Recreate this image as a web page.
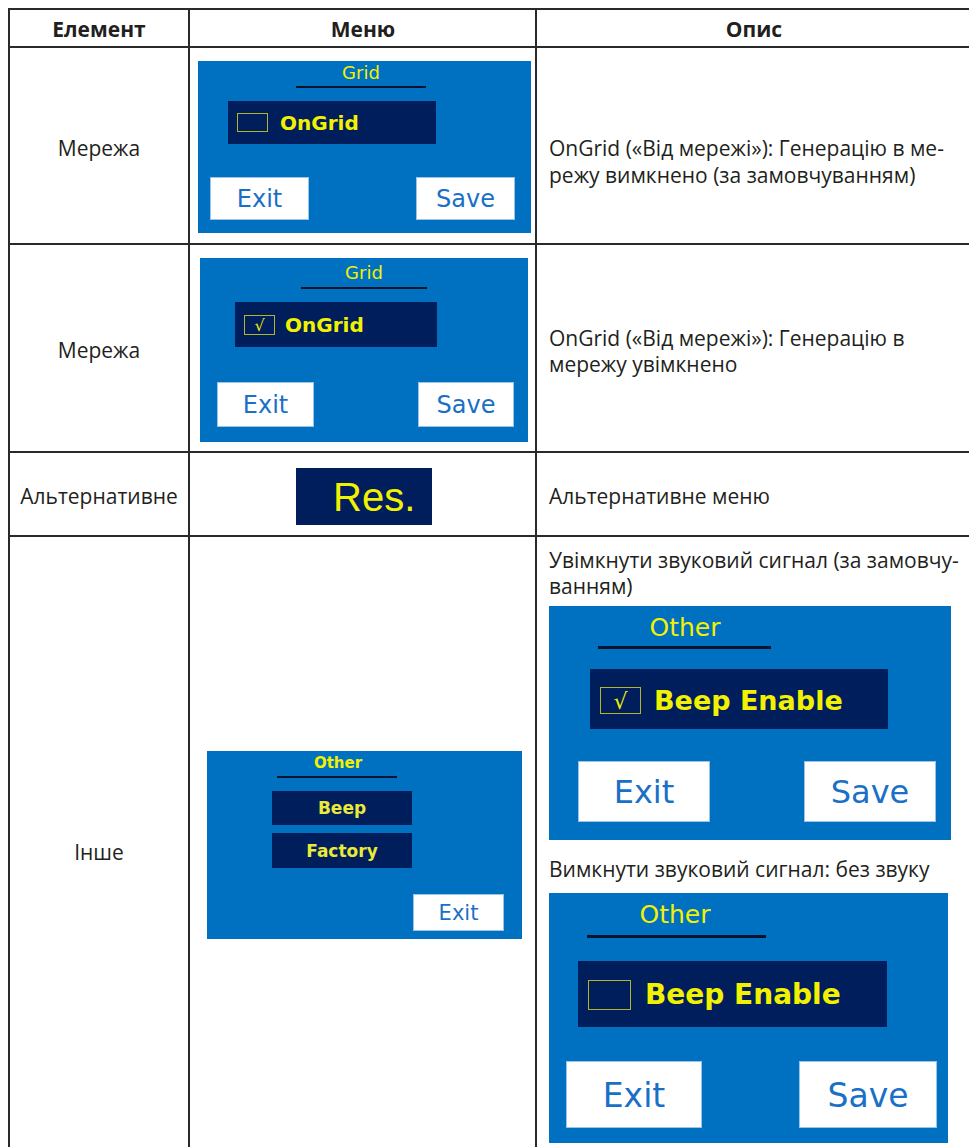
<!DOCTYPE html>
<html>
<head>
<meta charset="utf-8">
<script src="https://cdn.jsdelivr.net/npm/chart.js@4.4.1/dist/chart.umd.min.js"></script>
<style>
  html, body { margin: 0; padding: 0; background: #fff; width: 969px; height: 1147px; overflow: hidden; }
  #page { position: relative; width: 969px; height: 1147px; font-family: "Open Sans", "Noto Sans", sans-serif; color: #231f20; }
  .abs { position: absolute; box-sizing: border-box; }
  .txt { position: absolute; white-space: nowrap; line-height: 1; }
  .mid { transform: translate(-50%, -50%); }
  .lmid { transform: translateY(-50%); }
  .hc { transform: translateX(-50%); }
</style>
</head>
<body>
<div id="page"></div>
<script>
// table content
var headers = ["Елемент", "Меню", "Опис"];
var elements = ["Мережа", "Мережа", "Альтернативне", "Інше"];
var descriptions = [
  ["OnGrid («Від мережі»): Генерацію в ме-", "режу вимкнено (за замовчуванням)"],
  ["OnGrid («Від мережі»): Генерацію в", "мережу увімкнено"],
  ["Альтернативне меню"],
  ["Увімкнути звуковий сигнал (за замовчу-", "ванням)"]
];
var subDescription = "Вимкнути звуковий сигнал: без звуку";
var screenTitles = ["Grid", "Grid", "Other", "Other", "Other"];
var optionLabels = ["OnGrid", "OnGrid", "Beep Enable", "Beep Enable"];
var optionChecked = [false, true, true, false];
var otherItems = ["Beep", "Factory"];
var buttonLabels = ["Exit", "Save"];
var altLabel = "Res.";

var BLUE = "#0070c0", NAVY = "#001e5b", YEL = "#f2f200", BTN = "#1a70c6", LINE = "#2a2a2a";
var BODY = 21, ASC = 18.6; // body font size and baseline offset (line-height 1)
var page = document.getElementById("page");

function box(x, y, w, h, css) {
  var d = document.createElement("div");
  d.className = "abs";
  d.style.left = x + "px"; d.style.top = y + "px";
  d.style.width = w + "px"; d.style.height = h + "px";
  Object.assign(d.style, css || {});
  page.appendChild(d);
  return d;
}
function text(str, x, y, cls, css) {
  var d = document.createElement("div");
  d.className = "txt " + (cls || "");
  d.style.left = x + "px"; d.style.top = y + "px";
  d.textContent = str;
  Object.assign(d.style, css || {});
  page.appendChild(d);
  return d;
}
// body text placed by its baseline
function bodyText(str, x, base, centered, bold) {
  return text(str, x, base - ASC, centered ? "hc" : "", { fontSize: BODY + "px", fontWeight: bold ? "bold" : "normal" });
}
function button(label, x, y, w, h, size) {
  box(x, y, w, h, { background: "#fff", border: "1px solid #9cc3e8" });
  text(label, x + w / 2, y + h / 2, "mid", { fontFamily: "DejaVu Sans", fontSize: size + "px", color: BTN });
}
function checkbox(x, y, w, h, checked, size) {
  box(x, y, w, h, { border: "1.5px solid #b5b52a" });
  if (checked) text("√", x + w / 2, y + h / 2 + 1, "mid", { fontFamily: "DejaVu Sans", fontSize: size + "px", color: YEL });
}
function title(str, cx, cy, size, bold, ux1, ux2, uy, uh) {
  text(str, cx, cy, "mid", { fontFamily: "DejaVu Sans", fontSize: size + "px", color: YEL, fontWeight: bold ? "bold" : "normal" });
  box(ux1, uy, ux2 - ux1, uh, { background: "#08142e" });
}
function option(str, x, cy, size) {
  text(str, x, cy, "lmid", { fontFamily: "DejaVu Sans", fontWeight: "bold", fontSize: size + "px", color: YEL });
}

// table grid
var colX = [9, 189, 536, 971];
var rowY = [8, 46, 243, 451, 535];
colX.forEach(function (x) { box(x - 1, 8, 2, 1150, { background: LINE }); });
rowY.forEach(function (y) { box(8, y, 966, 2, { background: LINE }); });

// header
var headCx = [99, 363, 754];
headers.forEach(function (h, i) { bodyText(h, headCx[i], 38, true, true); });

// element column
var rowBase = [157, 359, 505, 861];
elements.forEach(function (e, i) { bodyText(e, 99, rowBase[i], true); });

// description column
var descBase = [[157, 184], [347, 373], [505], [569, 595]];
descriptions.forEach(function (lines, i) {
  lines.forEach(function (l, j) { bodyText(l, 549, descBase[i][j]); });
});
bodyText(subDescription, 549, 878);

// screen 1: Grid, unchecked
box(198, 61, 333, 172, { background: BLUE });
title(screenTitles[0], 361, 73, 18, false, 296, 426, 86, 2);
box(228, 101, 208, 43, { background: NAVY });
checkbox(237, 113, 31, 19, optionChecked[0], 16);
option(optionLabels[0], 280, 123, 20);
button(buttonLabels[0], 210, 177, 99, 43, 24);
button(buttonLabels[1], 416, 177, 99, 43, 24);

// screen 2: Grid, checked
box(200, 258, 328, 184, { background: BLUE });
title(screenTitles[1], 364, 273, 18, false, 301, 427, 287, 2);
box(235, 302, 202, 45, { background: NAVY });
checkbox(244, 315, 31, 20, optionChecked[1], 16);
option(optionLabels[1], 285, 325, 20);
button(buttonLabels[0], 217, 382, 97, 45, 24);
button(buttonLabels[1], 418, 382, 96, 45, 24);

// alternative menu
box(296, 468, 136, 57, { background: NAVY });
text(altLabel, 333, 497, "lmid", { fontFamily: "Liberation Sans", fontSize: "40px", color: YEL });

// screen 3: Other list
box(207, 751, 315, 188, { background: BLUE });
title(screenTitles[2], 338, 763, 15, true, 277, 397, 776, 2);
[[791, 34], [833, 35]].forEach(function (r, i) {
  box(272, r[0], 140, r[1], { background: NAVY });
  text(otherItems[i], 342, r[0] + r[1] / 2, "mid", { fontFamily: "DejaVu Sans", fontWeight: "bold", fontSize: "17px", color: "#eaea3a" });
});
button(buttonLabels[0], 413, 894, 91, 37, 21);

// screen 4: Beep enabled
box(549, 606, 402, 234, { background: BLUE });
title(screenTitles[3], 685, 627, 25, false, 598, 771, 646, 3);
box(590, 669, 298, 60, { background: NAVY });
checkbox(600, 687, 41, 27, optionChecked[2], 22);
option(optionLabels[2], 654, 700, 27);
button(buttonLabels[0], 578, 761, 132, 61, 32);
button(buttonLabels[1], 804, 761, 132, 61, 32);

// screen 5: Beep disabled
box(549, 893, 399, 250, { background: BLUE });
title(screenTitles[4], 675, 914, 25, false, 587, 766, 935, 3);
box(578, 961, 309, 66, { background: NAVY });
checkbox(588, 980, 43, 30, optionChecked[3], 22);
option(optionLabels[3], 645, 995, 28);
button(buttonLabels[0], 566, 1061, 136, 67, 33);
button(buttonLabels[1], 799, 1061, 138, 67, 33);
</script>
</body>
</html>
